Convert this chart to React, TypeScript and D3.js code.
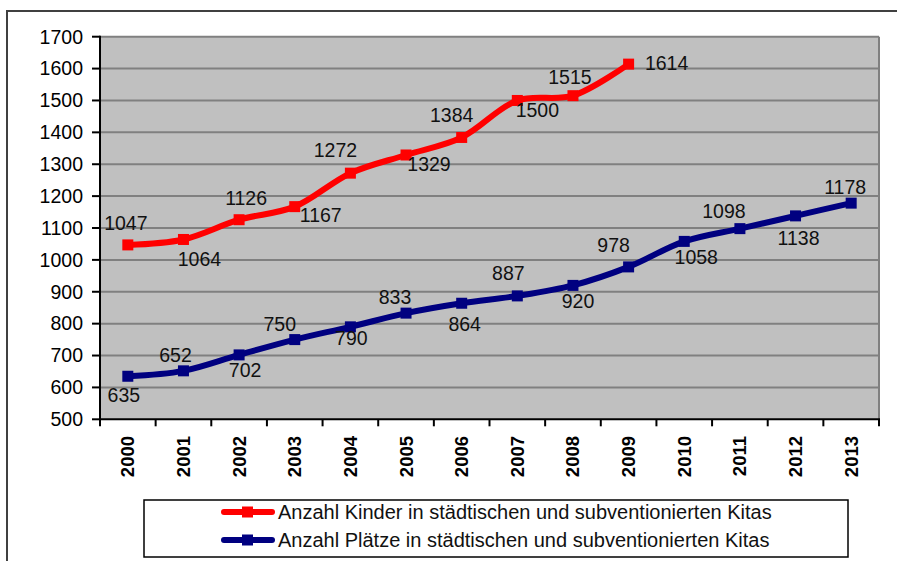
import React, { useRef, useEffect } from 'react';
import * as d3 from 'd3';

const years = ['2000', '2001', '2002', '2003', '2004', '2005', '2006', '2007', '2008', '2009', '2010', '2011', '2012', '2013'];
// Anzahl Kinder (only up to 2009)
const kinder = [1047, 1064, 1126, 1167, 1272, 1329, 1384, 1500, 1515, 1614];
// Anzahl Plätze
const plaetze = [635, 652, 702, 750, 790, 833, 864, 887, 920, 978, 1058, 1098, 1138, 1178];
const yTickValues = [500, 600, 700, 800, 900, 1000, 1100, 1200, 1300, 1400, 1500, 1600, 1700];

const seriesNames = [
  'Anzahl Kinder in städtischen und subventionierten Kitas',
  'Anzahl Plätze in städtischen und subventionierten Kitas',
];

// where Excel put each data label, relative to its point (dx, dy)
const kinderLabelPos = [[-2, -22], [16, 20], [7, -22], [26, 9], [-15, -23], [23, 9], [-10, -22], [20, 10], [-3, -19], [38, -1]];
const plaetzeLabelPos = [[-4, 19], [-8, -16], [6, 15], [-15, -15], [1, 11], [-11, -16], [3, 21], [-9, -23], [5, 16], [-15, -22], [12, 16], [-16, -17], [3, 22], [-6, -16]];

const W = 897;
const H = 561;
const FONT = 'Liberation Sans, Arial, sans-serif';

const App = () => {
  const svgRef = useRef<SVGSVGElement>(null);

  useEffect(() => {
    const svg = d3.select(svgRef.current);
    svg.selectAll('*').remove();

    const left = 100, right = 879, top = 36.7, bottom = 419.3;

    const x = d3.scaleBand().domain(years).range([left, right]);
    const y = d3.scaleLinear().domain([500, 1700]).range([bottom, top]);
    const cx = (i: number) => (x(years[i]) as number) + x.bandwidth() / 2;

    // outer frame
    svg.append('rect')
      .attr('x', 7).attr('y', 11)
      .attr('width', W + 10).attr('height', H + 10)
      .attr('fill', 'white')
      .attr('stroke', '#404040').attr('stroke-width', 2);

    // plot background
    svg.append('rect')
      .attr('x', left).attr('y', top)
      .attr('width', right - left).attr('height', bottom - top)
      .attr('fill', '#c0c0c0');

    // grid lines
    svg.append('g').selectAll('line')
      .data(yTickValues.filter(v => v > 500))
      .join('line')
      .attr('x1', left).attr('x2', right)
      .attr('y1', d => y(d)).attr('y2', d => y(d))
      .attr('stroke', '#808080').attr('stroke-width', 2);

    // right border of plot
    svg.append('line')
      .attr('x1', right).attr('x2', right).attr('y1', top).attr('y2', bottom)
      .attr('stroke', '#808080').attr('stroke-width', 2);

    // y axis
    const yAxis = svg.append('g');
    yAxis.append('line')
      .attr('x1', left).attr('x2', left).attr('y1', top - 1).attr('y2', bottom)
      .attr('stroke', 'black').attr('stroke-width', 2);
    yAxis.selectAll('line.tick')
      .data(yTickValues)
      .join('line')
      .attr('class', 'tick')
      .attr('x1', left - 8).attr('x2', left)
      .attr('y1', d => y(d)).attr('y2', d => y(d))
      .attr('stroke', 'black').attr('stroke-width', 2);
    yAxis.selectAll('text')
      .data(yTickValues)
      .join('text')
      .attr('x', 83).attr('y', d => y(d))
      .attr('dy', '0.35em')
      .attr('text-anchor', 'end')
      .style('font-family', FONT).style('font-size', '19.5px')
      .text(d => d);

    // x axis
    const xAxis = svg.append('g');
    xAxis.append('line')
      .attr('x1', left - 1).attr('x2', right + 1).attr('y1', bottom).attr('y2', bottom)
      .attr('stroke', 'black').attr('stroke-width', 2);
    xAxis.selectAll('line.tick')
      .data([...years.map(d => x(d) as number), right])
      .join('line')
      .attr('class', 'tick')
      .attr('x1', d => d).attr('x2', d => d)
      .attr('y1', bottom).attr('y2', bottom + 7)
      .attr('stroke', 'black').attr('stroke-width', 2);
    xAxis.selectAll('text')
      .data(years)
      .join('text')
      .attr('transform', (d, i) => `translate(${cx(i)},${436}) rotate(-90)`)
      .attr('dy', '0.35em')
      .attr('text-anchor', 'end')
      .style('font-family', FONT).style('font-size', '18.5px').style('font-weight', 'bold')
      .text(d => d);

    const line = d3.line<number>()
      .x((d, i) => cx(i))
      .y(d => y(d))
      .curve(d3.curveCatmullRom.alpha(0.5));

    const drawSeries = (values: number[], color: string, labelPos: number[][]) => {
      const g = svg.append('g');
      g.append('path')
        .attr('d', line(values))
        .attr('fill', 'none')
        .attr('stroke', color)
        .attr('stroke-width', 6)
        .attr('stroke-linejoin', 'round');
      g.selectAll('rect')
        .data(values)
        .join('rect')
        .attr('x', (d, i) => cx(i) - 5.5)
        .attr('y', d => y(d) - 5.5)
        .attr('width', 11).attr('height', 11)
        .attr('fill', color);
      g.selectAll('text')
        .data(values)
        .join('text')
        .attr('x', (d, i) => cx(i) + labelPos[i][0])
        .attr('y', (d, i) => y(d) + labelPos[i][1])
        .attr('dy', '0.35em')
        .attr('text-anchor', 'middle')
        .style('font-family', FONT).style('font-size', '19.5px')
        .attr('fill', '#111')
        .text(d => d);
    };

    drawSeries(plaetze, '#000080', plaetzeLabelPos);
    drawSeries(kinder, '#ff0000', kinderLabelPos);

    // legend
    const legend = svg.append('g');
    legend.append('rect')
      .attr('x', 144).attr('y', 500)
      .attr('width', 704).attr('height', 57)
      .attr('fill', 'white')
      .attr('stroke', 'black').attr('stroke-width', 1.5);
    const legendColors = ['#ff0000', '#000080'];
    const legendY = [512, 540];
    seriesNames.forEach((name, i) => {
      legend.append('line')
        .attr('x1', 224).attr('x2', 272)
        .attr('y1', legendY[i]).attr('y2', legendY[i])
        .attr('stroke', legendColors[i]).attr('stroke-width', 6)
        .attr('stroke-linecap', 'round');
      legend.append('rect')
        .attr('x', 242).attr('y', legendY[i] - 5.5)
        .attr('width', 11).attr('height', 11)
        .attr('fill', legendColors[i]);
      legend.append('text')
        .attr('x', 278).attr('y', legendY[i])
        .attr('dy', '0.35em')
        .style('font-family', FONT).style('font-size', '20px')
        .attr('fill', '#111')
        .text(name);
    });
  }, []);

  return (
    <svg
      ref={svgRef}
      width={W}
      height={H}
      style={{ position: 'absolute', left: 0, top: 0, background: 'white' }}
    />
  );
};

export default App;
